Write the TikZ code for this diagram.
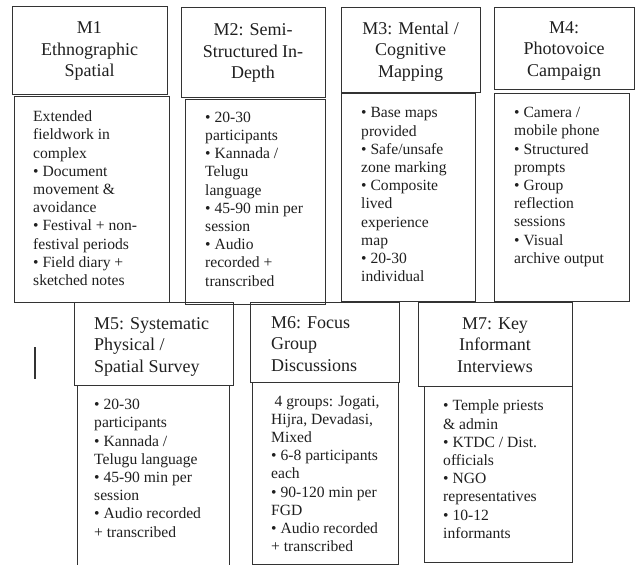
\documentclass[tikz,border=0pt]{standalone}
\usepackage{fontspec}
\setmainfont{Liberation Serif}
\begin{document}
\begin{tikzpicture}[x=1pt,y=-1pt,
  boxst/.style={draw=black!80, line width=0.9pt, inner sep=0pt, outer sep=0pt, fill=none},
  hdr/.style={text=black!88, inner sep=0pt, align=center, font=\fontsize{18}{21.5}\selectfont},
  hdrl/.style={text=black!88, inner sep=0pt, align=left, font=\fontsize{18}{21.5}\selectfont},
  bodyst/.style={text=black!88, inner sep=0pt, align=left, anchor=base west, font=\fontsize{15.6}{18.2}\selectfont}]
\useasboundingbox (0,0) rectangle (635,565);
\newcommand\mkbox[5]{\node[boxst, minimum width={#4-#2}, minimum height={#5-#3}] (#1) at ({(#2+#4)/2},{(#3+#5)/2}) {};}
% top row
\mkbox{m1h}{12}{6}{167}{94}
\mkbox{m1b}{14}{96}{169}{302}
\mkbox{m2h}{181}{7}{325}{97}
\mkbox{m2b}{185}{99}{325}{304}
\mkbox{m3h}{341}{7}{480}{92}
\mkbox{m3b}{341}{93}{475}{301}
\mkbox{m4h}{494}{7}{634}{89}
\mkbox{m4b}{494}{93}{629}{301}
% bottom row
\mkbox{m5h}{74}{302}{233}{385}
\mkbox{m5b}{77}{385}{229}{572}
\mkbox{m6h}{250}{302}{399}{382}
\mkbox{m6b}{252}{382}{398}{564}
\mkbox{m7h}{418}{302}{572}{386}
\mkbox{m7b}{424}{386}{572}{562}
% headers
\node[hdr] (m1t) at ([yshift=-1pt]m1h.center) {M1\\Ethnographic\\Spatial};
\node[hdr] (m2t) at ([yshift=-1pt]m2h.center) {M2: Semi-\\Structured In-\\Depth};
\node[hdr] (m3t) at ([yshift=-2pt]m3h.center) {M3: Mental /\\Cognitive\\Mapping};
\node[hdr] (m4t) at ([yshift=-3pt]m4h.center) {M4:\\Photovoice\\Campaign};
\node[hdrl, anchor=west] (m5t) at ([xshift=20pt,yshift=-3pt]m5h.west) {M5: Systematic\\Physical /\\Spatial Survey};
\node[hdrl, anchor=west] (m6t) at ([xshift=21pt,yshift=-2pt]m6h.west) {M6: Focus\\Group\\Discussions};
\node[hdr] (m7t) at ([yshift=-1pt]m7h.center) {M7: Key\\Informant\\Interviews};
% bodies (anchored at the baseline of the last line)
\node[bodyst] (m1x) at (33,285.5) {Extended\\fieldwork in\\complex\\• Document\\movement \&\\avoidance\\• Festival + non-\\festival periods\\• Field diary +\\sketched notes};
\node[bodyst] (m2x) at (205,286) {• 20-30\\participants\\• Kannada /\\Telugu\\language\\• 45-90 min per\\session\\• Audio\\recorded +\\transcribed};
\node[bodyst] (m3x) at (361,281.7) {• Base maps\\provided\\• Safe/unsafe\\zone marking\\• Composite\\lived\\experience\\map\\• 20-30\\individual};
\node[bodyst] (m4x) at (514,263.3) {• Camera /\\mobile phone\\• Structured\\prompts\\• Group\\reflection\\sessions\\• Visual\\archive output};
\node[bodyst] (m5x) at (94,537) {• 20-30\\participants\\• Kannada /\\Telugu language\\• 45-90 min per\\session\\• Audio recorded\\+ transcribed};
\node[bodyst] (m6x) at (271,551.7) {\hspace{3.5pt}4 groups: Jogati,\\Hijra, Devadasi,\\Mixed\\• 6-8 participants\\each\\• 90-120 min per\\FGD\\• Audio recorded\\+ transcribed};
\node[bodyst] (m7x) at (443,538.3) {• Temple priests\\\& admin\\• KTDC / Dist.\\officials\\• NGO\\representatives\\• 10-12\\informants};
% stray vertical mark
\coordinate (v1) at (35,347);
\coordinate (v2) at (35,379);
\draw[black!80, line width=1.1pt] (v1) -- (v2);
\end{tikzpicture}
\end{document}
